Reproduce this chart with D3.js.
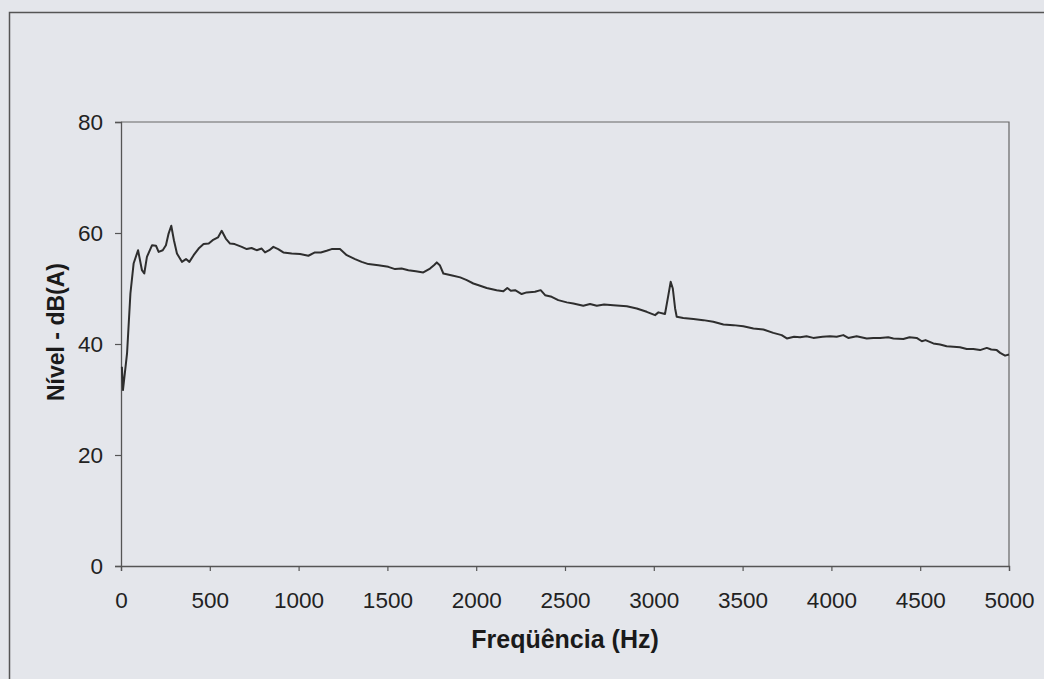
<!DOCTYPE html>
<html>
<head>
  <title>Nível x Freqüência</title>
  <script src="https://d3js.org/d3.v7.min.js"></script>
  <style>
    body { margin: 0; background: #e4e6eb; }
    svg { display: block; font-family: "Liberation Sans", Arial, sans-serif; }
  </style>
</head>
<body>
  <div id="chart"></div>
  <script>
    // Spectrum
    const freqHz = [5, 11, 34, 53, 71, 96, 118, 131, 146, 175, 197, 212, 235, 253, 268, 283, 298, 315, 343, 366,
      385, 409, 437, 465, 494, 516, 546, 567, 590, 614, 640, 680, 708, 735, 764, 792, 811, 835, 858, 885,
      914, 961, 1008, 1055, 1092, 1125, 1158, 1186, 1233, 1271, 1318, 1355, 1393, 1449, 1505, 1543, 1580, 1618, 1660, 1702,
      1740, 1762, 1778, 1795, 1815, 1871, 1910, 1947, 1984, 2022, 2059, 2115, 2153, 2175, 2195, 2219, 2256, 2284, 2331, 2363,
      2388, 2425, 2462, 2510, 2547, 2603, 2641, 2679, 2720, 2772, 2848, 2904, 2960, 3007, 3026, 3063, 3082, 3095, 3107, 3120,
      3129, 3166, 3223, 3279, 3335, 3392, 3448, 3504, 3561, 3617, 3673, 3720, 3749, 3790, 3824, 3860, 3898, 3950, 3992, 4030,
      4067, 4095, 4142, 4199, 4236, 4274, 4320, 4349, 4405, 4440, 4480, 4509, 4530, 4574, 4612, 4649, 4687, 4724, 4762, 4799,
      4837, 4875, 4900, 4931, 4950, 4978, 5000];
    const levelDb = [35.9, 31.7, 38.3, 49.1, 54.5, 56.9, 53.3, 52.7, 55.7, 57.8, 57.7, 56.6, 56.9, 57.8, 59.9, 61.3, 58.7, 56.3, 54.8, 55.3,
      54.8, 56.0, 57.2, 58.0, 58.1, 58.7, 59.2, 60.4, 59.0, 58.1, 58.0, 57.5, 57.1, 57.3, 56.9, 57.2, 56.5, 56.9, 57.5, 57.1,
      56.5, 56.3, 56.2, 55.9, 56.5, 56.5, 56.8, 57.1, 57.1, 56.0, 55.3, 54.8, 54.4, 54.2, 53.9, 53.5, 53.6, 53.3, 53.1, 52.9,
      53.6, 54.2, 54.7, 54.2, 52.7, 52.3, 52.0, 51.5, 50.9, 50.5, 50.1, 49.7, 49.5, 50.1, 49.6, 49.7, 49.0, 49.3, 49.4, 49.7,
      48.8, 48.5, 47.9, 47.5, 47.3, 46.9, 47.2, 46.9, 47.1, 47.0, 46.8, 46.4, 45.8, 45.2, 45.7, 45.4, 48.8, 51.2, 50.0, 46.4,
      44.9, 44.7, 44.5, 44.3, 44.0, 43.5, 43.4, 43.2, 42.8, 42.6, 42.0, 41.6, 41.0, 41.3, 41.2, 41.4, 41.1, 41.3, 41.4, 41.3,
      41.6, 41.1, 41.4, 41.0, 41.1, 41.1, 41.2, 41.0, 40.9, 41.2, 41.1, 40.5, 40.7, 40.1, 39.9, 39.6, 39.5, 39.4, 39.1, 39.1,
      38.9, 39.3, 39.0, 38.9, 38.4, 37.9, 38.1];

    const xTicks = [0, 500, 1000, 1500, 2000, 2500, 3000, 3500, 4000, 4500, 5000];
    const yTicks = [0, 20, 40, 60, 80];

    const data = freqHz.map((f, i) => ({ f: f, db: levelDb[i] }));

    const width = 1044, height = 679;
    const plotLeft = 121, plotRight = 1009, plotTop = 122, plotBottom = 566;

    const svg = d3.select("#chart")
      .append("svg")
      .attr("width", width)
      .attr("height", height);

    svg.append("rect")
      .attr("width", width)
      .attr("height", height)
      .attr("fill", "#e4e6eb");

    // outer frame of the figure box
    svg.append("path")
      .attr("d", `M9.5,${height} V12.5 H${width}`)
      .attr("fill", "none")
      .attr("stroke", "#555")
      .attr("stroke-width", 1.5);

    const x = d3.scaleLinear().domain([0, 5000]).range([plotLeft, plotRight]);
    const y = d3.scaleLinear().domain([0, 80]).range([plotBottom, plotTop]);

    // plot area frame (top and right)
    svg.append("path")
      .attr("d", `M${plotLeft},${plotTop} H${plotRight} V${plotBottom}`)
      .attr("fill", "none")
      .attr("stroke", "#666")
      .attr("stroke-width", 1.2);

    const xAxis = svg.append("g")
      .attr("transform", `translate(0,${plotBottom})`)
      .call(d3.axisBottom(x).tickValues(xTicks).tickSize(5).tickPadding(21).tickFormat(d3.format("d")));

    const yAxis = svg.append("g")
      .attr("transform", `translate(${plotLeft},0)`)
      .call(d3.axisLeft(y).tickValues(yTicks).tickSize(6).tickPadding(12));

    [xAxis, yAxis].forEach(ax => {
      ax.select(".domain").attr("stroke", "#555").attr("stroke-width", 1.3);
      ax.selectAll(".tick line").attr("stroke", "#555").attr("stroke-width", 1.2);
      ax.selectAll(".tick text")
        .attr("fill", "#222")
        .style("font-size", "22.5px")
        .style("font-family", "Liberation Sans, Arial, sans-serif");
    });

    const line = d3.line()
      .x(d => x(d.f))
      .y(d => y(d.db));

    svg.append("path")
      .datum(data)
      .attr("fill", "none")
      .attr("stroke", "#2e2e2e")
      .attr("stroke-width", 2)
      .attr("stroke-linejoin", "round")
      .attr("d", line);

    svg.append("text")
      .attr("x", (plotLeft + plotRight) / 2)
      .attr("y", 648)
      .attr("text-anchor", "middle")
      .attr("fill", "#1a1a1a")
      .style("font-size", "25px")
      .style("font-weight", "bold")
      .text("Freqüência (Hz)");

    svg.append("text")
      .attr("transform", "translate(64,332) rotate(-90)")
      .attr("text-anchor", "middle")
      .attr("fill", "#1a1a1a")
      .style("font-size", "23px")
      .style("font-weight", "bold")
      .text("Nível - dB(A)");
  </script>
</body>
</html>
